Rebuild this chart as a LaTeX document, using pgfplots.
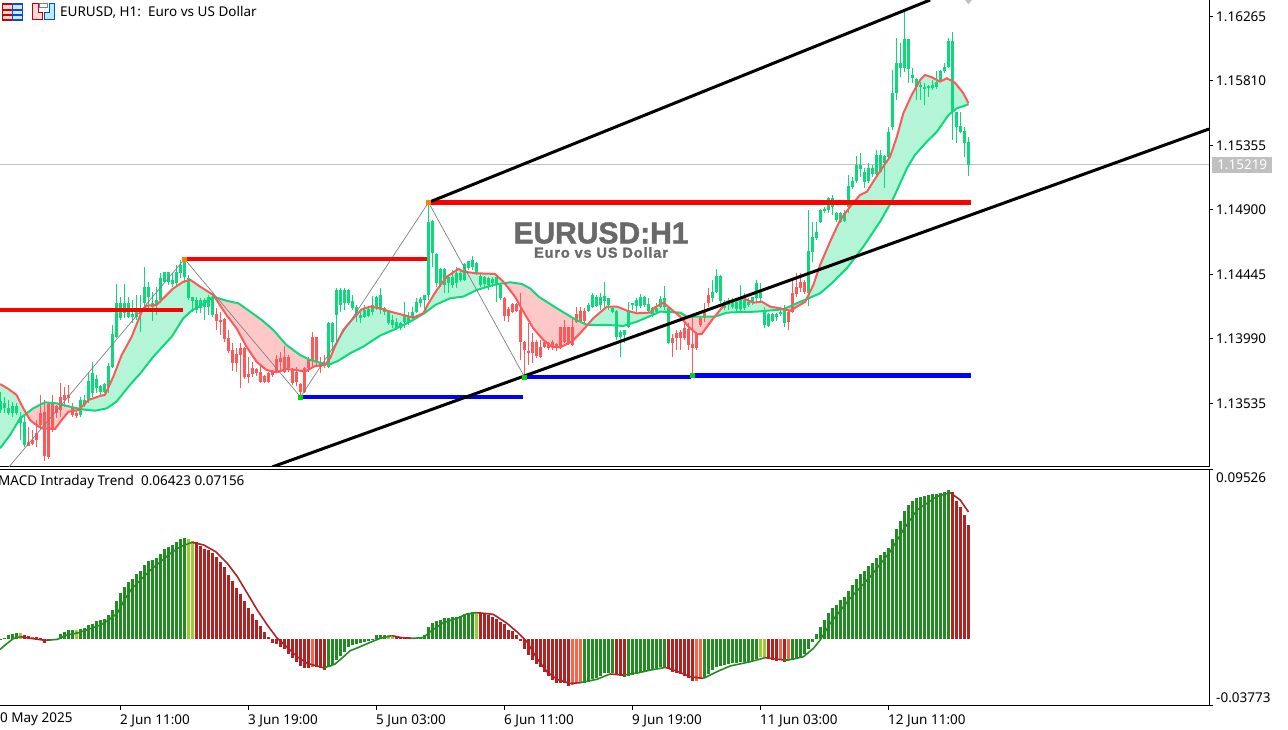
\documentclass[border=0pt]{standalone}
\usepackage{fontspec}
\setmainfont{Noto Sans}
\newfontfamily\wmfont[BoldFeatures={FakeBold=1.5}]{Liberation Sans}
\usepackage{pgfplots}
\usepackage{pgfplotstable}
\pgfplotsset{compat=1.18}

\definecolor{candleg}{HTML}{0CD97A}
\definecolor{candler}{HTML}{FF5858}
\definecolor{mint}{HTML}{B4F5D7}
\definecolor{pinkf}{HTML}{FFC8C8}
\definecolor{forest}{HTML}{228B22}
\definecolor{ygreen}{HTML}{9ACD32}
\definecolor{brick}{HTML}{B22222}
\definecolor{tomato}{HTML}{FF6347}
\definecolor{pricegrey}{HTML}{C0C0C0}
\definecolor{zigzag}{HTML}{808080}
\definecolor{wmark}{HTML}{696969}

% k = bar number, one bar every 4 px
\pgfplotstableread{
k h t b l
0 1.13618 1.13552 1.13489 1.13465
1 1.13583 1.13536 1.13501 1.13465
2 1.13560 1.13505 1.13465 1.13454
3 1.13548 1.13517 1.13465 1.13442
4 1.13536 1.13520 1.13470 1.13454
5 1.13477 1.13442 1.13395 1.13277
6 1.13454 1.13407 1.13242 1.13230
20 1.13583 1.13560 1.13454 1.13442
21 1.13595 1.13560 1.13524 1.13512
22 1.13759 1.13694 1.13560 1.13536
23 1.13830 1.13748 1.13607 1.13583
24 1.13736 1.13708 1.13642 1.13607
25 1.13665 1.13658 1.13618 1.13583
26 1.13677 1.13672 1.13618 1.13607
27 1.13818 1.13802 1.13654 1.13607
28 1.14088 1.14025 1.13795 1.13783
29 1.14378 1.14241 1.14006 1.13994
30 1.14288 1.14241 1.14136 1.14124
31 1.14375 1.14241 1.14171 1.14136
32 1.14288 1.14241 1.14147 1.14136
33 1.14265 1.14166 1.14143 1.14100
34 1.14300 1.14206 1.14147 1.14124
35 1.14300 1.14206 1.14166 1.14041
36 1.14500 1.14359 1.14241 1.14206
37 1.14394 1.14359 1.14288 1.14206
38 1.14324 1.14241 1.14218 1.14119
39 1.14359 1.14265 1.14230 1.14159
40 1.14453 1.14418 1.14265 1.14241
41 1.14465 1.14460 1.14394 1.14382
42 1.14465 1.14460 1.14394 1.14371
43 1.14453 1.14406 1.14375 1.14354
44 1.14512 1.14465 1.14387 1.14371
45 1.14547 1.14512 1.14453 1.14418
46 1.14547 1.14535 1.14429 1.14382
47 1.14441 1.14418 1.14277 1.14265
48 1.14288 1.14284 1.14260 1.14183
49 1.14288 1.14265 1.14194 1.14171
50 1.14277 1.14265 1.14206 1.14171
51 1.14277 1.14265 1.14218 1.14124
52 1.14300 1.14288 1.14218 1.14159
53 1.14300 1.14277 1.14159 1.14143
82 1.14112 1.14100 1.13795 1.13783
83 1.14112 1.14101 1.13971 1.13889
84 1.14347 1.14336 1.14159 1.13971
85 1.14347 1.14336 1.14230 1.14183
86 1.14347 1.14336 1.14242 1.14195
87 1.14343 1.14336 1.14242 1.14230
88 1.14300 1.14258 1.14206 1.14195
89 1.14230 1.14218 1.14159 1.14112
90 1.14183 1.14159 1.14136 1.14101
91 1.14230 1.14195 1.14148 1.14136
92 1.14206 1.14199 1.14152 1.14143
93 1.14293 1.14230 1.14183 1.14159
94 1.14293 1.14289 1.14218 1.14195
95 1.14347 1.14300 1.14195 1.14166
96 1.14218 1.14206 1.14183 1.14159
97 1.14195 1.14183 1.14101 1.14089
98 1.14159 1.14124 1.14089 1.14065
99 1.14136 1.14112 1.14065 1.14054
100 1.14112 1.14101 1.14065 1.14054
101 1.14253 1.14159 1.14112 1.14065
102 1.14183 1.14148 1.14101 1.14089
103 1.14218 1.14183 1.14136 1.14124
104 1.14277 1.14253 1.14183 1.14171
105 1.14289 1.14270 1.14242 1.14218
106 1.14300 1.14300 1.14265 1.14183
107 1.14947 1.14818 1.14300 1.14265
108 1.14829 1.14825 1.14594 1.14500
109 1.14594 1.14590 1.14383 1.14359
110 1.14489 1.14481 1.14371 1.14359
111 1.14489 1.14484 1.14371 1.14312
112 1.14441 1.14425 1.14383 1.14312
113 1.14477 1.14425 1.14371 1.14347
114 1.14500 1.14453 1.14383 1.14347
115 1.14477 1.14453 1.14406 1.14394
116 1.14524 1.14519 1.14406 1.14402
117 1.14543 1.14538 1.14489 1.14477
118 1.14578 1.14547 1.14500 1.14477
119 1.14536 1.14524 1.14453 1.14441
120 1.14449 1.14434 1.14371 1.14359
121 1.14434 1.14425 1.14378 1.14359
122 1.14430 1.14418 1.14371 1.14336
123 1.14425 1.14411 1.14383 1.14359
124 1.14441 1.14430 1.14371 1.14253
125 1.14383 1.14371 1.14277 1.14265
147 1.14242 1.14230 1.14190 1.14183
148 1.14312 1.14300 1.14218 1.14206
149 1.14300 1.14289 1.14223 1.14213
150 1.14312 1.14289 1.14230 1.14195
151 1.14394 1.14293 1.14260 1.14218
152 1.14277 1.14277 1.14230 1.14195
153 1.14213 1.14206 1.14183 1.14171
154 1.14195 1.14190 1.14007 1.13983
155 1.14054 1.14042 1.14007 1.13865
156 1.14054 1.14054 1.14018 1.13960
157 1.14253 1.14190 1.14077 1.14065
158 1.14246 1.14242 1.14230 1.14195
159 1.14277 1.14265 1.14223 1.14183
160 1.14307 1.14284 1.14223 1.14206
161 1.14293 1.14284 1.14230 1.14218
162 1.14277 1.14237 1.14190 1.14183
163 1.14218 1.14206 1.14166 1.14148
164 1.14242 1.14206 1.14183 1.14166
165 1.14293 1.14270 1.14218 1.14206
166 1.14364 1.14277 1.14218 1.14195
167 1.14218 1.14206 1.13964 1.13955
178 1.14406 1.14324 1.14277 1.14253
179 1.14481 1.14434 1.14324 1.14312
180 1.14441 1.14434 1.14260 1.14242
181 1.14265 1.14253 1.14206 1.14195
182 1.14277 1.14253 1.14230 1.14195
183 1.14277 1.14265 1.14218 1.14199
184 1.14265 1.14253 1.14199 1.14183
185 1.14371 1.14265 1.14199 1.14190
186 1.14312 1.14265 1.14206 1.14195
187 1.14277 1.14253 1.14230 1.14218
188 1.14289 1.14284 1.14253 1.14230
189 1.14406 1.14387 1.14277 1.14253
190 1.14383 1.14336 1.14277 1.14242
191 1.14218 1.14190 1.14089 1.14065
192 1.14176 1.14166 1.14082 1.14072
193 1.14176 1.14166 1.14119 1.14112
194 1.14171 1.14164 1.14148 1.14119
195 1.14206 1.14183 1.14164 1.14152
196 1.14230 1.14206 1.14101 1.14077
202 1.14900 1.14613 1.14312 1.14223
203 1.14818 1.14712 1.14606 1.14536
204 1.14818 1.14747 1.14700 1.14688
205 1.14905 1.14900 1.14818 1.14806
206 1.14923 1.14905 1.14895 1.14876
207 1.14994 1.14982 1.14900 1.14876
208 1.15006 1.14982 1.14919 1.14865
209 1.14888 1.14881 1.14829 1.14818
210 1.14888 1.14881 1.14818 1.14806
211 1.14900 1.14881 1.14825 1.14818
212 1.15147 1.15069 1.14919 1.14876
213 1.15135 1.15107 1.15060 1.15046
214 1.15281 1.15217 1.15107 1.15093
215 1.15300 1.15217 1.15189 1.15135
216 1.15194 1.15170 1.15100 1.15053
217 1.15229 1.15198 1.15107 1.15093
218 1.15217 1.15198 1.15154 1.15135
219 1.15323 1.15288 1.15154 1.15135
220 1.15323 1.15288 1.15170 1.15158
221 1.15288 1.15281 1.15229 1.15053
222 1.15488 1.15448 1.15276 1.15264
223 1.15887 1.15723 1.15488 1.15464
224 1.16111 1.15934 1.15723 1.15676
225 1.16075 1.15934 1.15899 1.15840
226 1.16310 1.16104 1.15899 1.15876
227 1.16104 1.16104 1.15892 1.15798
228 1.15899 1.15852 1.15829 1.15793
229 1.15829 1.15824 1.15770 1.15676
230 1.15805 1.15781 1.15765 1.15676
231 1.15793 1.15770 1.15753 1.15640
232 1.15781 1.15777 1.15758 1.15699
233 1.15817 1.15781 1.15758 1.15746
234 1.15883 1.15805 1.15765 1.15751
235 1.15887 1.15883 1.15817 1.15805
236 1.15934 1.15906 1.15883 1.15864
237 1.16111 1.16094 1.15911 1.15899
238 1.16153 1.16094 1.15593 1.15394
239 1.15593 1.15593 1.15488 1.15375
240 1.15593 1.15492 1.15452 1.15441
241 1.15488 1.15457 1.15375 1.15276
242 1.15417 1.15382 1.15219 1.15140
}\greencandles

\pgfplotstableread{
k h t b l
7 1.13371 1.13266 1.13237 1.13235
8 1.13348 1.13277 1.13249 1.13242
9 1.13418 1.13324 1.13277 1.13230
10 1.13595 1.13465 1.13383 1.13348
11 1.13560 1.13477 1.13165 1.13132
12 1.13536 1.13531 1.13155 1.13141
13 1.13595 1.13536 1.13348 1.13336
14 1.13524 1.13520 1.13465 1.13430
15 1.13677 1.13583 1.13489 1.13442
16 1.13654 1.13595 1.13560 1.13512
17 1.13665 1.13595 1.13571 1.13536
18 1.13536 1.13501 1.13454 1.13442
19 1.13489 1.13470 1.13447 1.13430
54 1.14206 1.14166 1.14119 1.14053
55 1.14183 1.14124 1.14112 1.14018
56 1.14136 1.14128 1.13987 1.13971
57 1.14053 1.13994 1.13907 1.13889
58 1.13959 1.13912 1.13823 1.13766
59 1.13924 1.13884 1.13818 1.13759
60 1.13959 1.13929 1.13877 1.13642
61 1.13936 1.13924 1.13719 1.13708
62 1.13865 1.13741 1.13724 1.13682
63 1.13830 1.13783 1.13741 1.13724
64 1.13783 1.13778 1.13748 1.13729
65 1.13806 1.13759 1.13689 1.13682
66 1.13736 1.13729 1.13689 1.13682
67 1.13759 1.13748 1.13689 1.13677
68 1.13771 1.13759 1.13736 1.13724
69 1.13877 1.13846 1.13759 1.13748
70 1.13900 1.13853 1.13830 1.13759
71 1.13940 1.13865 1.13759 1.13748
72 1.13877 1.13865 1.13783 1.13759
73 1.13783 1.13771 1.13677 1.13665
74 1.13795 1.13759 1.13689 1.13661
75 1.13677 1.13672 1.13618 1.13595
76 1.13795 1.13783 1.13618 1.13607
77 1.13865 1.13842 1.13783 1.13759
78 1.14041 1.14002 1.13842 1.13795
79 1.14006 1.14002 1.13830 1.13795
80 1.13865 1.13823 1.13795 1.13752
81 1.13877 1.13818 1.13799 1.13783
126 1.14289 1.14282 1.14152 1.14119
127 1.14218 1.14199 1.14152 1.14112
128 1.14242 1.14237 1.14183 1.14171
129 1.14242 1.14237 1.14190 1.14183
130 1.14317 1.14195 1.13971 1.13842
131 1.13978 1.13971 1.13913 1.13729
132 1.14101 1.13908 1.13889 1.13807
133 1.14030 1.13971 1.13889 1.13818
134 1.13983 1.13971 1.13870 1.13854
135 1.13983 1.13931 1.13865 1.13854
136 1.13983 1.13971 1.13936 1.13924
137 1.13971 1.13964 1.13924 1.13913
138 1.13983 1.13971 1.13931 1.13913
139 1.13960 1.13955 1.13924 1.13908
140 1.14077 1.14072 1.13931 1.13917
141 1.14124 1.14072 1.13971 1.13960
142 1.14077 1.14072 1.13960 1.13948
143 1.14148 1.14077 1.13948 1.13941
144 1.14218 1.14166 1.14112 1.14101
145 1.14218 1.14190 1.14119 1.14112
146 1.14206 1.14190 1.14119 1.14101
168 1.14023 1.13995 1.13964 1.13865
169 1.14054 1.14035 1.13995 1.13913
170 1.14054 1.14042 1.13995 1.13913
171 1.14124 1.14065 1.13995 1.13983
172 1.14101 1.14058 1.13948 1.13913
173 1.14148 1.13955 1.13924 1.13736
174 1.14042 1.14025 1.13924 1.13913
175 1.14148 1.14136 1.14089 1.14077
176 1.14242 1.14183 1.14136 1.14112
177 1.14347 1.14300 1.14242 1.14218
197 1.14195 1.14183 1.14112 1.14054
198 1.14406 1.14312 1.14183 1.14171
199 1.14458 1.14355 1.14307 1.14289
200 1.14453 1.14394 1.14347 1.14324
201 1.14406 1.14394 1.14324 1.14307
}\redcandles

% fast average (red line)
\pgfplotstableread{
k v
-0.1 1.13672
2.0 1.13637
4.0 1.13595
5.7 1.13501
7.4 1.13418
8.6 1.13390
10.3 1.13360
13.6 1.13355
15.3 1.13418
17.0 1.13477
19.5 1.13489
22.0 1.13560
24.9 1.13588
26.1 1.13595
28.2 1.13724
30.3 1.13877
32.8 1.14006
35.3 1.14183
36.5 1.14225
39.0 1.14230
40.7 1.14277
43.2 1.14347
45.7 1.14394
47.5 1.14406
49.9 1.14359
53.2 1.14300
56.5 1.14159
59.0 1.14065
61.5 1.13936
64.0 1.13830
66.5 1.13771
69.0 1.13755
71.5 1.13778
74.0 1.13771
76.1 1.13759
78.6 1.13799
81.1 1.13806
82.4 1.13854
83.6 1.13936
85.7 1.14054
88.2 1.14136
90.3 1.14199
92.4 1.14218
94.9 1.14206
97.4 1.14183
100.7 1.14159
103.2 1.14141
105.7 1.14171
107.0 1.14242
109.1 1.14336
111.6 1.14430
114.5 1.14484
115.7 1.14465
119.1 1.14453
123.6 1.14449
125.7 1.14394
128.6 1.14289
130.7 1.14183
133.2 1.14065
135.7 1.13983
137.8 1.13936
139.9 1.13931
142.8 1.13971
144.9 1.14030
148.2 1.14136
151.6 1.14218
154.1 1.14218
156.6 1.14190
159.1 1.14171
162.4 1.14176
163.6 1.14213
165.7 1.14246
167.4 1.14206
169.9 1.14148
172.0 1.14077
174.1 1.14025
175.3 1.14025
178.2 1.14136
181.6 1.14253
185.7 1.14277
188.2 1.14246
190.3 1.14253
192.4 1.14218
195.7 1.14202
197.4 1.14188
199.1 1.14218
201.2 1.14253
203.2 1.14371
204.9 1.14512
207.4 1.14677
209.9 1.14829
212.4 1.14923
214.9 1.15006
216.6 1.15029
219.5 1.15158
222.4 1.15276
224.1 1.15417
225.7 1.15582
227.8 1.15711
229.9 1.15817
231.1 1.15852
232.8 1.15836
234.9 1.15805
236.6 1.15829
238.6 1.15798
240.7 1.15723
242.0 1.15652
}\fastma

% slow average (green line)
\pgfplotstableread{
k v
-0.1 1.13219
2.4 1.13313
4.9 1.13430
8.2 1.13501
11.1 1.13543
14.0 1.13536
17.4 1.13512
20.3 1.13494
23.6 1.13484
26.6 1.13501
29.0 1.13548
32.0 1.13654
35.3 1.13759
38.2 1.13865
42.8 1.14006
45.7 1.14136
47.8 1.14190
50.3 1.14230
53.2 1.14288
56.5 1.14260
59.5 1.14241
62.4 1.14183
65.3 1.14124
68.2 1.14053
71.5 1.13947
74.9 1.13877
77.4 1.13842
81.1 1.13813
82.4 1.13811
84.5 1.13837
87.4 1.13889
90.7 1.13936
94.9 1.14014
98.2 1.14054
102.4 1.14112
106.2 1.14176
108.7 1.14230
112.4 1.14277
115.7 1.14289
119.1 1.14336
123.2 1.14371
127.4 1.14390
130.3 1.14378
132.4 1.14347
134.5 1.14289
139.1 1.14206
143.2 1.14136
146.6 1.14089
151.6 1.14089
155.7 1.14082
159.1 1.14112
162.4 1.14152
164.9 1.14183
169.9 1.14176
171.6 1.14148
178.6 1.14148
181.6 1.14176
189.1 1.14183
195.7 1.14199
199.1 1.14242
204.9 1.14312
207.8 1.14383
211.6 1.14489
215.7 1.14641
219.9 1.14818
223.2 1.14982
226.6 1.15194
228.6 1.15288
231.6 1.15382
234.1 1.15452
237.0 1.15570
239.1 1.15617
242.0 1.15645
}\slowma

\newcommand{\candles}[2]{%
  \addplot[draw=none, no marks, forget plot, error bars/.cd, y dir=both, y explicit, error mark=none,
    error bar style={line width=1pt, #2}]
    table[x=k, y=t, y error plus expr=\thisrow{h}-\thisrow{t}, y error minus expr=\thisrow{t}-\thisrow{l}] {#1};
  \addplot[draw=none, no marks, forget plot, error bars/.cd, y dir=minus, y explicit, error mark=none,
    error bar style={line width=3pt, #2}]
    table[x=k, y=t, y error minus expr=\thisrow{t}-\thisrow{b}] {#1};
}

\pgfplotsset{
  chartaxis/.style={
    scale only axis, width=1209pt, anchor=south west,
    xmin=-0.125, xmax=302.125,
    axis x line*=bottom, axis y line*=right,
    axis line style={black, line width=1pt, -},
    tick align=outside, major tick length=4pt,
    tick style={black, line width=1pt},
    tick label style={font=\fontsize{13.5}{13.5}\selectfont},
    yticklabel style={anchor=west, inner xsep=0pt, xshift=3pt},
    scaled ticks=false,
  },
}

\begin{document}
\begin{tikzpicture}
\path[use as bounding box] (0pt,0pt) rectangle (1288pt,730pt);

% price panel
\begin{axis}[chartaxis, at={(0pt,263pt)}, height=467pt,
    ymin=1.13087, ymax=1.16381,
    xtick=\empty,
    ytick={1.13535,1.13990,1.14445,1.14900,1.15355,1.15810,1.16265},
    yticklabels={1.13535,1.13990,1.14445,1.14900,1.15355,1.15810,1.16265},
    extra y ticks={1.15219},
    extra y tick labels={1.15219},
    extra y tick style={tick style={draw=none},
      yticklabel style={fill=pricegrey, text=white, minimum width=60pt, minimum height=16pt,
        inner ysep=0pt, xshift=-4pt}},
  ]
  \addplot[pricegrey, line width=1pt, forget plot] coordinates {(-0.125,1.15219) (302.125,1.15219)};
  % fill between the two averages, one polygon per stretch
  \addplot[draw=none, fill=mint] coordinates {(-0.1,1.13672) (2.0,1.13637) (4.0,1.13595) (5.7,1.13501) (6.46,1.13464) (4.9,1.13430) (2.4,1.13313) (-0.1,1.13219)};
  \addplot[draw=none, fill=pinkf] coordinates {(6.46,1.13464) (8.2,1.13501) (11.1,1.13543) (14.0,1.13536) (17.4,1.13512) (19.8,1.13498) (19.5,1.13489) (17.0,1.13477) (15.3,1.13418) (13.6,1.13355) (10.3,1.13360) (8.6,1.13390) (7.4,1.13418)};
  \addplot[draw=none, fill=mint] coordinates {(19.8,1.13498) (22.0,1.13560) (24.9,1.13588) (26.1,1.13595) (28.2,1.13724) (30.3,1.13877) (32.8,1.14006) (35.3,1.14183) (36.5,1.14225) (39.0,1.14230) (40.7,1.14277) (43.2,1.14347) (45.7,1.14394) (47.5,1.14406) (49.9,1.14359) (53.2,1.14300) (53.55,1.14285) (53.2,1.14288) (50.3,1.14230) (47.8,1.14190) (45.7,1.14136) (42.8,1.14006) (38.2,1.13865) (35.3,1.13759) (32.0,1.13654) (29.0,1.13548) (26.6,1.13501) (23.6,1.13484) (20.3,1.13494)};
  \addplot[draw=none, fill=pinkf] coordinates {(53.55,1.14285) (56.5,1.14260) (59.5,1.14241) (62.4,1.14183) (65.3,1.14124) (68.2,1.14053) (71.5,1.13947) (74.9,1.13877) (77.4,1.13842) (81.1,1.13813) (81.28,1.13812) (81.1,1.13806) (78.6,1.13799) (76.1,1.13759) (74.0,1.13771) (71.5,1.13778) (69.0,1.13755) (66.5,1.13771) (64.0,1.13830) (61.5,1.13936) (59.0,1.14065) (56.5,1.14159)};
  \addplot[draw=none, fill=mint] coordinates {(81.28,1.13812) (82.4,1.13854) (83.6,1.13936) (85.7,1.14054) (88.2,1.14136) (90.3,1.14199) (92.4,1.14218) (94.9,1.14206) (97.4,1.14183) (100.7,1.14159) (103.2,1.14141) (105.7,1.14171) (107.0,1.14242) (109.1,1.14336) (111.6,1.14430) (114.5,1.14484) (115.7,1.14465) (119.1,1.14453) (123.6,1.14449) (125.7,1.14394) (126.02,1.14383) (123.2,1.14371) (119.1,1.14336) (115.7,1.14289) (112.4,1.14277) (108.7,1.14230) (106.2,1.14176) (102.4,1.14112) (98.2,1.14054) (94.9,1.14014) (90.7,1.13936) (87.4,1.13889) (84.5,1.13837) (82.4,1.13811)};
  \addplot[draw=none, fill=pinkf] coordinates {(126.02,1.14383) (127.4,1.14390) (130.3,1.14378) (132.4,1.14347) (134.5,1.14289) (139.1,1.14206) (143.2,1.14136) (146.6,1.14089) (147.0,1.14089) (144.9,1.14030) (142.8,1.13971) (139.9,1.13931) (137.8,1.13936) (135.7,1.13983) (133.2,1.14065) (130.7,1.14183) (128.6,1.14289)};
  \addplot[draw=none, fill=mint] coordinates {(147.0,1.14089) (148.2,1.14136) (151.6,1.14218) (154.1,1.14218) (156.6,1.14190) (159.1,1.14171) (162.4,1.14176) (163.6,1.14213) (165.7,1.14246) (167.4,1.14206) (168.6,1.14178) (164.9,1.14183) (162.4,1.14152) (159.1,1.14112) (155.7,1.14082) (151.6,1.14089)};
  \addplot[draw=none, fill=pinkf] coordinates {(168.6,1.14178) (169.9,1.14176) (171.6,1.14148) (178.6,1.14148) (178.2,1.14136) (175.3,1.14025) (174.1,1.14025) (172.0,1.14077) (169.9,1.14148)};
  \addplot[draw=none, fill=mint] coordinates {(178.6,1.14148) (181.6,1.14253) (185.7,1.14277) (188.2,1.14246) (190.3,1.14253) (192.4,1.14218) (195.7,1.14202) (195.85,1.14201) (195.7,1.14199) (189.1,1.14183) (181.6,1.14176)};
  \addplot[draw=none, fill=pinkf] coordinates {(195.85,1.14201) (199.1,1.14242) (201.5,1.14271) (201.2,1.14253) (199.1,1.14218) (197.4,1.14188)};
  \addplot[draw=none, fill=mint] coordinates {(201.5,1.14271) (203.2,1.14371) (204.9,1.14512) (207.4,1.14677) (209.9,1.14829) (212.4,1.14923) (214.9,1.15006) (216.6,1.15029) (219.5,1.15158) (222.4,1.15276) (224.1,1.15417) (225.7,1.15582) (227.8,1.15711) (229.9,1.15817) (231.1,1.15852) (232.8,1.15836) (234.9,1.15805) (236.6,1.15829) (238.6,1.15798) (240.7,1.15723) (242.0,1.15652) (242.0,1.15645) (239.1,1.15617) (237.0,1.15570) (234.1,1.15452) (231.6,1.15382) (228.6,1.15288) (226.6,1.15194) (223.2,1.14982) (219.9,1.14818) (215.7,1.14641) (211.6,1.14489) (207.8,1.14383) (204.9,1.14312)};
  \candles{\greencandles}{candleg}
  \candles{\redcandles}{candler}
  \addplot[candleg, line width=2pt] table[x=k, y=v] {\slowma};
  \addplot[candler, line width=2pt] table[x=k, y=v] {\fastma};
  \addplot[zigzag, line width=0.7pt] coordinates {(2.1,1.13087) (46,1.14554) (75,1.13581) (107,1.14953) (131,1.13722)};
  % support and resistance
  \addplot[red, line width=4.5pt] coordinates {(-0.125,1.14194) (45.5,1.14194)};
  \addplot[red, line width=4.5pt] coordinates {(46,1.14554) (106.7,1.14554)};
  \addplot[red, line width=4.5pt] coordinates {(107,1.14953) (242.5,1.14953)};
  \addplot[blue, line width=4.5pt] coordinates {(75,1.13581) (130.5,1.13581)};
  \addplot[blue, line width=4.5pt] coordinates {(131,1.13722) (172.7,1.13722)};
  \addplot[blue, line width=4.5pt] coordinates {(173,1.13734) (242.5,1.13734)};
  \addplot[only marks, mark=square*, mark size=2pt, color=orange] coordinates {(46,1.14554) (107,1.14953)};
  \addplot[only marks, mark=square*, mark size=2pt, color=green!85!black] coordinates {(75,1.13581) (131,1.13722) (173,1.13734)};
  % channel
  \addplot[black, line width=3pt] coordinates {(107,1.14953) (232.4,1.16381)};
  \addplot[black, line width=3pt] coordinates {(67.9,1.13087) (302.125,1.15471)};
  \addplot[only marks, mark=diamond*, mark size=4pt, color=pricegrey] coordinates {(242,1.16381)};
\end{axis}

% MACD panel
\begin{axis}[chartaxis, at={(0pt,24pt)}, height=236pt,
    ymin=-0.03773, ymax=0.09526,
    xtick={30,62,94,126,158,190,222},
    xticklabels={2 Jun 11:00,3 Jun 19:00,5 Jun 03:00,6 Jun 11:00,9 Jun 19:00,11 Jun 03:00,12 Jun 11:00},
    xticklabel style={anchor=north west, inner xsep=0pt, xshift=-0.5pt, yshift=-1pt},
    ytick={0.09526},
    yticklabels={0.09526},
    yticklabel style={yshift=-8pt},
    extra y ticks={-0.03773},
    extra y tick labels={-0.03773},
    extra y tick style={yticklabel style={yshift=16pt}},
  ]
  \addplot[ycomb, forest, line width=3pt] coordinates {
    (0,0.0003) (1,0.0004) (2,0.0023) (3,0.0028) (4,0.0034)
    (13,-0.0002) (14,-0.0002) (15,0.0028) (16,0.0038) (17,0.0051) (18,0.0051)
    (20,0.0056) (21,0.0060) (22,0.0079) (23,0.0085) (24,0.0102) (25,0.0107) (26,0.0113) (27,0.0135)
    (28,0.0164) (29,0.0216) (30,0.0258) (31,0.0291) (32,0.0320) (33,0.0338) (34,0.0367) (35,0.0385)
    (36,0.0417) (37,0.0438) (38,0.0446) (39,0.0457) (40,0.0479) (41,0.0508) (42,0.0521) (43,0.0532)
    (44,0.0545) (45,0.0564) (46,0.0568)
    (82,-0.0160) (83,-0.0147) (84,-0.0118) (85,-0.0094) (86,-0.0075) (87,-0.0047) (88,-0.0034)
    (89,-0.0030) (90,-0.0024) (91,-0.0019) (92,-0.0009) (93,-0.0006) (94,0.0023) (95,0.0023) (96,0.0023)
    (104,0.0008) (105,0.0008) (106,0.0023) (107,0.0070) (108,0.0092) (109,0.0100) (110,0.0107)
    (111,0.0120) (112,0.0120) (113,0.0126) (114,0.0126) (115,0.0132) (116,0.0139) (117,0.0149) (118,0.0150)
    (146,-0.0246) (147,-0.0241) (148,-0.0227) (149,-0.0222) (150,-0.0209) (151,-0.0194) (152,-0.0194) (153,-0.0194)
    (157,-0.0209) (158,-0.0203) (159,-0.0197) (160,-0.0194) (161,-0.0186) (162,-0.0180)
    (163,-0.0175) (164,-0.0165) (165,-0.0160) (166,-0.0156)
    (176,-0.0222) (177,-0.0197) (178,-0.0175) (179,-0.0156) (180,-0.0152) (181,-0.0147) (182,-0.0143)
    (183,-0.0137) (184,-0.0137) (185,-0.0132) (186,-0.0132) (187,-0.0128) (188,-0.0124) (189,-0.0113)
    (198,-0.0118) (199,-0.0109) (200,-0.0100) (201,-0.0085) (202,-0.0056) (203,-0.0015) (204,0.0028)
    (205,0.0066) (206,0.0107) (207,0.0149) (208,0.0173) (209,0.0192) (210,0.0220) (211,0.0235)
    (212,0.0273) (213,0.0305) (214,0.0337) (215,0.0365) (216,0.0385) (217,0.0412) (218,0.0431)
    (219,0.0455) (220,0.0474) (221,0.0493) (222,0.0511) (223,0.0562) (224,0.0619) (225,0.0667)
    (226,0.0722) (227,0.0756) (228,0.0778) (229,0.0793) (230,0.0803) (231,0.0808) (232,0.0812)
    (233,0.0816) (234,0.0818) (235,0.0822) (236,0.0827) (237,0.0840)
  };
  \addplot[ycomb, ygreen, line width=3pt] coordinates {
    (5,0.0034) (19,0.0051) (47,0.0564) (48,0.0555) (97,0.0023) (98,0.0013) (119,0.0150)
    (190,-0.0100) (191,-0.0105)
  };
  \addplot[ycomb, tomato, line width=3pt] coordinates {
    (8,0.0009) (78,-0.0158) (103,0.0004) (143,-0.0258) (144,-0.0250) (145,-0.0246)
    (174,-0.0235) (175,-0.0224) (195,-0.0115) (197,-0.0115)
  };
  \addplot[ycomb, brick, line width=3pt] coordinates {
    (6,0.0020) (7,0.0019) (9,0.0009) (10,0.0004) (11,-0.0021) (12,-0.0006)
    (49,0.0545) (50,0.0526) (51,0.0508) (52,0.0502) (53,0.0483) (54,0.0461) (55,0.0436) (56,0.0404)
    (57,0.0361) (58,0.0329) (59,0.0288) (60,0.0254) (61,0.0216) (62,0.0175) (63,0.0141) (64,0.0109)
    (65,0.0075) (66,0.0041) (67,0.0013) (68,-0.0020) (69,-0.0028) (70,-0.0047) (71,-0.0058) (72,-0.0085)
    (73,-0.0107) (74,-0.0128) (75,-0.0152) (76,-0.0162) (77,-0.0162) (79,-0.0156) (80,-0.0165) (81,-0.0173)
    (99,0.0017) (100,0.0013) (101,0.0009) (102,0.0009)
    (120,0.0145) (121,0.0139) (122,0.0135) (123,0.0126) (124,0.0113) (125,0.0098) (126,0.0083) (127,0.0051)
    (128,0.0045) (129,0.0023) (130,-0.0009) (131,-0.0056) (132,-0.0090) (133,-0.0118) (134,-0.0141)
    (135,-0.0160) (136,-0.0184) (137,-0.0209) (138,-0.0231) (139,-0.0246) (140,-0.0246) (141,-0.0250) (142,-0.0263)
    (154,-0.0203) (155,-0.0209) (156,-0.0212)
    (167,-0.0171) (168,-0.0184) (169,-0.0190) (170,-0.0199) (171,-0.0207) (172,-0.0222) (173,-0.0235)
    (192,-0.0115) (193,-0.0118) (194,-0.0122) (196,-0.0128)
    (238,0.0827) (239,0.0778) (240,0.0743) (241,0.0699) (242,0.06423)
  };
  % signal line, green while rising and red while falling
  \addplot[forest, line width=1.6pt] coordinates {(-0.1,-0.0058) (1.7,-0.0024) (3.3,0.0004) (5.0,0.0013)};
  \addplot[brick, line width=1.6pt] coordinates {(5.0,0.0013) (7.5,0.0004) (10.8,-0.0006) (12.1,-0.0006)};
  \addplot[forest, line width=1.6pt] coordinates {(12.1,-0.0006) (14.2,-0.0002) (16.7,0.0023) (19.6,0.0036) (22.1,0.0056) (25,0.0079) (26.7,0.0102) (29.2,0.0145) (31.2,0.0229) (32.9,0.0286) (35,0.0333) (37.5,0.0389) (40,0.0436) (42.5,0.0483) (45,0.0521) (47.9,0.0545)};
  \addplot[brick, line width=1.6pt] coordinates {(47.9,0.0545) (50.8,0.0530) (53.8,0.0492) (56.7,0.0427) (59.2,0.0352) (61.7,0.0258) (64.2,0.0163) (66.7,0.0079) (69.2,0.0004) (71.7,-0.0047) (74.2,-0.0100) (76.7,-0.0137) (80.8,-0.0162)};
  \addplot[forest, line width=1.6pt] coordinates {(80.8,-0.0162) (82.4,-0.0152) (83.6,-0.0141) (85.3,-0.0109) (87.4,-0.0066) (89.9,-0.0043) (92.4,-0.0019) (94.9,0.0004) (97.8,0.0019)};
  \addplot[brick, line width=1.6pt] coordinates {(97.8,0.0019) (100.3,0.0008) (102.8,0.0004)};
  \addplot[forest, line width=1.6pt] coordinates {(102.8,0.0004) (105.7,0.0008) (107.4,0.0041) (110.7,0.0092) (114.1,0.0116) (116.6,0.0141) (119.1,0.0149)};
  \addplot[brick, line width=1.6pt] coordinates {(119.1,0.0149) (123.2,0.0139) (126.6,0.0089) (129.1,0.0041) (131.6,-0.0015) (134.1,-0.0109) (136.6,-0.0184) (139.1,-0.0227) (142.4,-0.0250) (144.9,-0.0246)};
  \addplot[forest, line width=1.6pt] coordinates {(144.9,-0.0246) (149.1,-0.0227) (152.4,-0.0197)};
  \addplot[brick, line width=1.6pt] coordinates {(152.4,-0.0197) (155.7,-0.0203)};
  \addplot[forest, line width=1.6pt] coordinates {(155.7,-0.0203) (159.9,-0.0188) (162.4,-0.0175) (166.2,-0.0160)};
  \addplot[brick, line width=1.6pt] coordinates {(166.2,-0.0160) (169.1,-0.0181) (172.4,-0.0212) (175.7,-0.0222)};
  \addplot[forest, line width=1.6pt] coordinates {(175.7,-0.0222) (179.1,-0.0184) (182.4,-0.0152) (187.4,-0.0128) (191.2,-0.0105)};
  \addplot[brick, line width=1.6pt] coordinates {(191.2,-0.0105) (195.7,-0.0118)};
  \addplot[forest, line width=1.6pt] coordinates {(195.7,-0.0118) (197,-0.0118) (200.7,-0.0100) (203.2,-0.0053) (204.9,-0.0006) (207.4,0.0088) (212.4,0.0229) (217.4,0.0351) (222.4,0.0492) (225.7,0.0615) (229.1,0.0727) (234.1,0.0803) (237.4,0.0825)};
  \addplot[brick, line width=1.6pt] coordinates {(237.4,0.0825) (239.9,0.0784) (242,0.07156)};
\end{axis}

% frame line above the MACD panel
\draw[black, line width=1pt] (0pt,260pt) -- (1209pt,260pt);

% texts
\node[anchor=west, inner sep=0pt, font=\fontsize{13.5}{13.5}\selectfont] at (60pt,718pt) {EURUSD, H1:\ \ Euro vs US Dollar};
\node[anchor=west, inner sep=0pt, font=\fontsize{13.5}{13.5}\selectfont] at (0pt,11pt) {0 May 2025};
\node[anchor=west, inner sep=0pt, font=\fontsize{13.5}{13.5}\selectfont] at (-2pt,248pt) {MACD Intraday Trend\ \ 0.06423\ 0.07156};
\node[anchor=center, inner sep=0pt, text=wmark, font=\wmfont\fontsize{30}{30}\selectfont\bfseries] at (601pt,497pt) {EURUSD:H1};
\node[anchor=center, inner sep=0pt, text=wmark, font=\wmfont\fontsize{14.5}{14.5}\selectfont\bfseries\addfontfeature{LetterSpace=6}] at (601pt,477.5pt) {Euro vs US Dollar};

% window icons
\draw[red!80!black, fill=red!15, line width=1.3pt] (2.5pt,710pt) rectangle (12.5pt,726pt);
\draw[blue!60!cyan!80!black, fill=blue!12, line width=1.3pt] (12.5pt,710pt) rectangle (22.5pt,726pt);
\foreach \yy in {715,720}{
  \draw[red!80!black, line width=1.2pt] (3pt,\yy pt) -- (12pt,\yy pt);
  \draw[blue!60!cyan!80!black, line width=1.2pt] (13pt,\yy pt) -- (22pt,\yy pt);
}
\draw[red!80!black, fill=red!15, line width=1pt] (32.5pt,710pt) -- (42.5pt,710pt) -- (42.5pt,717pt) -- (38pt,717pt) -- (38pt,726pt) -- (32.5pt,726pt) -- cycle;
\draw[blue!60!cyan!80!black, fill=cyan!25, line width=1pt] (44.5pt,710pt) -- (54.5pt,710pt) -- (54.5pt,726pt) -- (49pt,726pt) -- (49pt,717pt) -- (44.5pt,717pt) -- cycle;
\draw[zigzag, line width=1pt] (39pt,722pt) rectangle (47pt,726pt);
\end{tikzpicture}
\end{document}
